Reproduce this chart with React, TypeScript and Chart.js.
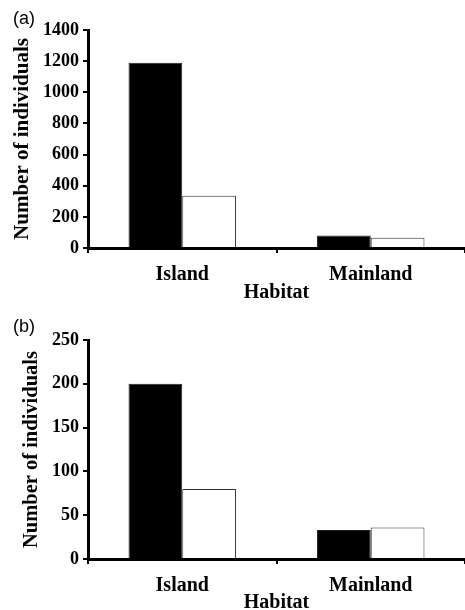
import React, { useEffect, useRef } from "react";
import { Chart, registerables } from "chart.js";

Chart.register(...registerables);

const categories = ["Island", "Mainland"];
const panelABlack = [1190, 81];
const panelAWhite = [336, 66];
const panelBBlack = [200, 33];
const panelBWhite = [80, 36];
const panelAMax = 1400;
const panelAStep = 200;
const panelBMax = 250;
const panelBStep = 50;

const SERIF = "'Liberation Serif', 'Times New Roman', serif";

type PanelProps = {
  black: number[];
  white: number[];
  max: number;
  step: number;
  height: number;
  padTop: number;
  xHeight: number;
  titlePad: number;
  titleSize: number;
};

function Panel({ black, white, max, step, height, padTop, xHeight, titlePad, titleSize }: PanelProps) {
  const ref = useRef<HTMLCanvasElement | null>(null);
  useEffect(() => {
    if (!ref.current) return;
    const chart = new Chart(ref.current, {
      type: "bar",
      data: {
        labels: categories,
        datasets: [
          {
            data: black,
            backgroundColor: "#000",
            borderColor: "#222",
            borderWidth: 1,
            categoryPercentage: 0.57,
            barPercentage: 1,
          },
          {
            data: white,
            backgroundColor: "#fff",
            borderColor: "#333",
            borderWidth: 1,
            categoryPercentage: 0.57,
            barPercentage: 1,
          },
        ],
      },
      options: {
        animation: false,
        responsive: false,
        maintainAspectRatio: false,
        layout: { padding: { top: padTop, left: 0, right: 0, bottom: 0 } },
        plugins: { legend: { display: false }, tooltip: { enabled: false } },
        scales: {
          x: {
            offset: true,
            grid: {
              offset: true,
              drawOnChartArea: false,
              drawTicks: true,
              tickLength: 5,
              color: "#000",
              lineWidth: 2,
            },
            border: { display: true, color: "#000", width: 3 },
            ticks: {
              color: "#000",
              padding: 10,
              font: { family: SERIF, size: 20, weight: "bold" },
            },
            title: {
              display: true,
              text: "Habitat",
              color: "#000",
              padding: { top: 0, bottom: 0 },
              font: { family: SERIF, size: 20, weight: "bold", lineHeight: 0.7 },
            },
            afterFit: (s: any) => {
              s.height = xHeight;
            },
          },
          y: {
            min: 0,
            max: max,
            ticks: {
              stepSize: step,
              color: "#000",
              padding: 4,
              font: { family: SERIF, size: 18, weight: "bold" },
              callback: (v: any) => String(v),
            },
            grid: {
              drawOnChartArea: false,
              drawTicks: true,
              tickLength: 5,
              color: "#000",
              lineWidth: 2,
            },
            border: { display: true, color: "#000", width: 3 },
            title: {
              display: true,
              text: "Number of individuals",
              color: "#000",
              padding: { top: titlePad, bottom: 0 },
              font: { family: SERIF, size: titleSize, weight: "bold" },
            },
            afterFit: (s: any) => {
              s.width = 88;
            },
          },
        },
      },
    });
    return () => chart.destroy();
  }, []);
  return (
    <canvas
      ref={ref}
      width={465}
      height={height}
      style={{ display: "block", width: 465, height }}
    />
  );
}

const labelStyle: React.CSSProperties = {
  position: "absolute",
  left: 13,
  fontFamily: "'Liberation Sans', Arial, sans-serif",
  fontSize: 18,
  lineHeight: "20px",
  color: "#000",
};

export default function App() {
  return (
    <div
      style={{
        position: "absolute",
        left: 0,
        top: 0,
        width: 465,
        height: 610,
        background: "#fff",
        overflow: "hidden",
      }}
    >
      <div style={{ position: "absolute", left: 0, top: 0 }}>
        <Panel
          black={panelABlack}
          white={panelAWhite}
          max={panelAMax}
          step={panelAStep}
          height={300}
          padTop={30}
          xHeight={52}
          titlePad={10}
          titleSize={21}
        />
      </div>
      <div style={{ position: "absolute", left: 0, top: 300 }}>
        <Panel
          black={panelBBlack}
          white={panelBWhite}
          max={panelBMax}
          step={panelBStep}
          height={310}
          padTop={40}
          xHeight={51}
          titlePad={19}
          titleSize={20.5}
        />
      </div>
      <div style={{ ...labelStyle, top: 8 }}>(a)</div>
      <div style={{ ...labelStyle, top: 316 }}>(b)</div>
    </div>
  );
}
